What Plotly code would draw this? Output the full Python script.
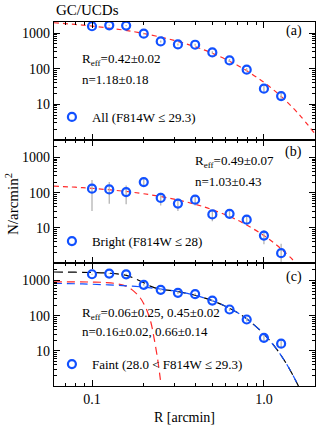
import plotly.graph_objects as go

# ---- data ----
R_pts = [0.100, 0.126, 0.158, 0.200, 0.251, 0.316, 0.398, 0.501, 0.631, 0.794, 1.000, 1.259]

N_all = [1550, 1650, 1620, 960, 580, 480, 470, 285, 170, 94, 27.5, 17]
E_all = [60, 60, 60, 45, 35, 32, 30, 22, 16, 11, 5, 4]

N_bright = [130, 124, 104, 200, 71, 49, 63, 24, 25, 17, 6.0, 1.9]
E_bright = [100, 76, 57, 50, 28, 19, 20, 8.5, 6.5, 5, 2.6, 1.6]

N_faint = [1510, 1580, 1500, 755, 545, 447, 410, 270, 150, 78, 23.5, 16]
E_faint = [55, 55, 55, 40, 33, 30, 28, 20, 14, 10, 5, 4]

# fitted model curves
R_fit_a = [0.06, 0.08, 0.10, 0.15, 0.20, 0.30, 0.40, 0.50, 0.70, 1.00, 1.30, 1.60, 2.00]
N_fit_a = [1948, 1746, 1573, 1229, 972, 623, 408, 272, 125, 41.3, 14.4, 5.2, 1.4]

R_fit_b = [0.06, 0.08, 0.10, 0.15, 0.20, 0.30, 0.40, 0.50, 0.70, 1.00, 1.30, 1.60]
N_fit_b = [154, 143, 133, 111, 93, 65.7, 46.4, 32.8, 16.6, 6.0, 2.19, 0.81]

R_fit_c_in = [0.06, 0.08, 0.10, 0.12, 0.14, 0.16, 0.18, 0.19, 0.20, 0.21, 0.22, 0.23, 0.24, 0.25]
N_fit_c_in = [920, 915, 905, 880, 810, 670, 440, 330, 220, 130, 65, 22, 6.5, 1.5]

R_fit_c_out = [0.06, 0.08, 0.10, 0.15, 0.20, 0.30, 0.40, 0.50, 0.60, 0.70, 0.80, 1.00, 1.20, 1.40, 1.60]
N_fit_c_out = [830, 810, 785, 720, 650, 506, 376, 268, 184, 123, 79, 30, 10.3, 3.2, 0.92]

R_fit_c_tot = [0.06, 0.08, 0.10, 0.12, 0.14, 0.16, 0.18, 0.20, 0.22, 0.25, 0.30, 0.40, 0.50, 0.60, 0.70, 0.80, 1.00, 1.20, 1.40, 1.60]
N_fit_c_tot = [1750, 1725, 1690, 1640, 1545, 1380, 1105, 870, 680, 565, 506, 376, 268, 184, 123, 79, 30, 10.3, 3.2, 0.92]

labels = ["All (F814W \u2264 29.3)", "Bright (F814W \u2264 28)", "Faint (28.0 &#60; F814W \u2264 29.3)"]
panel_tags = ["(a)", "(b)", "(c)"]
fit_text = [
    ["R<sub>eff</sub>=0.42\u00b10.02", "n=1.18\u00b10.18"],
    ["R<sub>eff</sub>=0.49\u00b10.07", "n=1.03\u00b10.43"],
    ["R<sub>eff</sub>=0.06\u00b10.25, 0.45\u00b10.02", "n=0.16\u00b10.02, 0.66\u00b10.14"],
]

y_major = [10, 100, 1000]
y_minor = [2, 3, 4, 5, 6, 7, 8, 9, 20, 30, 40, 50, 60, 70, 80, 90,
           200, 300, 400, 500, 600, 700, 800, 900, 2000, 3000]
x_major = [0.1, 1.0]
x_major_text = ["0.1", "1.0"]
x_minor = [0.06, 0.07, 0.08, 0.09, 0.2, 0.3, 0.4, 0.5, 0.6, 0.7, 0.8, 0.9, 2.0]

# ---- style ----
FONT = "Liberation Serif"
BLUE = "#1150ff"
RED = "#ff2a2a"
BLACK = "#000000"
GRAY = "#b4b4b4"

fig = go.Figure()

data_sets = [(N_all, E_all), (N_bright, E_bright), (N_faint, E_faint)]
axes = [("x", "y"), ("x2", "y2"), ("x3", "y3")]
legends = ["legend", "legend2", "legend3"]

# fits
fig.add_trace(go.Scatter(x=R_fit_a, y=N_fit_a, mode="lines", xaxis="x", yaxis="y",
                         line=dict(color=RED, width=1.2, dash="5px,4px", shape="spline"),
                         showlegend=False, hoverinfo="skip"))
fig.add_trace(go.Scatter(x=R_fit_b, y=N_fit_b, mode="lines", xaxis="x2", yaxis="y2",
                         line=dict(color=RED, width=1.2, dash="5px,4px", shape="spline"),
                         showlegend=False, hoverinfo="skip"))
fig.add_trace(go.Scatter(x=R_fit_c_tot, y=N_fit_c_tot, mode="lines", xaxis="x3", yaxis="y3",
                         line=dict(color=BLACK, width=1.2, dash="9px,5px", shape="spline"),
                         showlegend=False, hoverinfo="skip"))
fig.add_trace(go.Scatter(x=R_fit_c_in, y=N_fit_c_in, mode="lines", xaxis="x3", yaxis="y3",
                         line=dict(color=RED, width=1.2, dash="8px,5px", shape="spline"),
                         showlegend=False, hoverinfo="skip"))
fig.add_trace(go.Scatter(x=R_fit_c_out, y=N_fit_c_out, mode="lines", xaxis="x3", yaxis="y3",
                         line=dict(color=BLUE, width=1.2, dash="8px,5px", shape="spline"),
                         showlegend=False, hoverinfo="skip"))

for i, ((vals, errs), (xa, ya)) in enumerate(zip(data_sets, axes)):
    fig.add_trace(go.Scatter(
        x=R_pts, y=vals, mode="markers", xaxis=xa, yaxis=ya,
        name=labels[i], legend=legends[i],
        marker=dict(symbol="circle-open", size=8, color=BLUE, line=dict(width=2.2, color=BLUE)),
        error_y=dict(type="data", array=errs, visible=True, color=GRAY, thickness=1.3, width=0),
    ))

domains = [[0.676, 1.0], [0.338, 0.676], [0.0, 0.338]]
yranges = [[0, 3.31], [0, 3.5], [0, 3.5]]
xrange_ = [-1.221, 0.297]

layout = dict(
    width=319, height=425,
    margin=dict(l=54, r=4, t=22, b=39),
    paper_bgcolor="white", plot_bgcolor="white",
    font=dict(family=FONT, size=14, color="black"),
    showlegend=True,
)

for i in range(3):
    sfx = "" if i == 0 else str(i + 1)
    layout["xaxis" + sfx] = dict(
        type="log", range=xrange_, domain=[0, 1],
        anchor="y" + sfx,
        tickvals=x_major, ticktext=x_major_text,
        showticklabels=(i == 2),
        ticks="inside", ticklen=6, tickwidth=1, tickcolor="black",
        minor=dict(tickvals=x_minor, ticks="inside", ticklen=3, tickwidth=1, tickcolor="black"),
        mirror="allticks", showline=True, linecolor="black", linewidth=1.2,
        showgrid=False, zeroline=False,
        tickfont=dict(size=14),
    )
    layout["yaxis" + sfx] = dict(
        type="log", range=yranges[i], domain=domains[i],
        anchor="x" + sfx,
        tickvals=y_major, ticktext=["10", "100", "1000"],
        ticks="inside", ticklen=6, tickwidth=1, tickcolor="black",
        minor=dict(tickvals=y_minor, ticks="inside", ticklen=3, tickwidth=1, tickcolor="black"),
        mirror="allticks", showline=True, linecolor="black", linewidth=1.2,
        showgrid=False, zeroline=False,
        tickfont=dict(size=14),
    )

legend_y = [0.739, 0.398, 0.060]
for i, lg in enumerate(legends):
    layout[lg] = dict(
        x=-0.008, y=legend_y[i], xanchor="left", yanchor="middle",
        bgcolor="rgba(0,0,0,0)", borderwidth=0,
        font=dict(family=FONT, size=13, color="black"),
        itemwidth=30, tracegroupgap=0,
    )

fig.update_layout(**layout)

annotations = []
# panel tags
tag_y = [0.975, 0.644, 0.299]
for i in range(3):
    annotations.append(dict(xref="paper", yref="paper", x=0.958, y=tag_y[i], text=panel_tags[i],
                            showarrow=False, xanchor="right", yanchor="middle",
                            font=dict(family=FONT, size=14)))
# fit parameter texts
fit_pos = [
    (0.10, [0.896, 0.841]),
    (0.531, [0.618, 0.561]),
    (0.10, [0.198, 0.149]),
]
for i in range(3):
    xp, ys = fit_pos[i]
    for j in range(2):
        annotations.append(dict(xref="paper", yref="paper", x=xp, y=ys[j], text=fit_text[i][j],
                                showarrow=False, xanchor="left", yanchor="middle",
                                font=dict(family=FONT, size=13)))
# title
annotations.append(dict(xref="paper", yref="paper", x=0.0, y=1.0, yshift=2, text="GC/UCDs",
                        showarrow=False, xanchor="left", yanchor="bottom",
                        font=dict(family=FONT, size=15)))
# axis titles
annotations.append(dict(xref="paper", yref="paper", x=0.5, y=0, yshift=-22, text="R [arcmin]",
                        showarrow=False, xanchor="center", yanchor="top",
                        font=dict(family=FONT, size=14)))
annotations.append(dict(xref="paper", yref="paper", x=0, xshift=-31, y=0.5, text="N/arcmin<sup>2</sup>",
                        showarrow=False, xanchor="right", yanchor="middle", textangle=-90,
                        font=dict(family=FONT, size=15)))
fig.update_layout(annotations=annotations)

fig.write_html("out.html", config={"displayModeBar": False},
               post_script="document.body.style.margin='0';document.body.style.overflow='hidden';")
